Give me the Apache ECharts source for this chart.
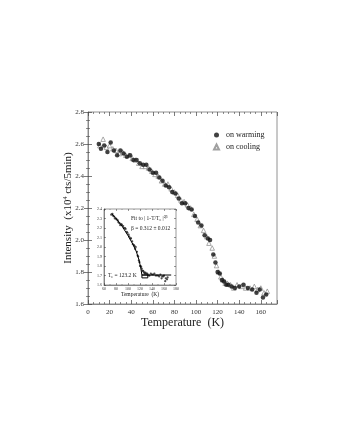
<!DOCTYPE html>
<html>
<head>
<meta charset="utf-8">
<script src="https://cdn.jsdelivr.net/npm/echarts@6/dist/echarts.min.js"></script>
<style>
html,body{margin:0;padding:0;background:#fff;}
#chart{width:346px;height:448px;}
</style>
</head>
<body>
<div id="chart"></div>
<script>
// on warming (filled circles)
var warmT = [10,12,15,18,21,24,27,30,33,36,39,42,45,48,51,54,57,60,63,66,69,72,75,78,81,84,87,90,93,96,99,102,105,108,111,113,116,118,120,122,124,126,128,130,133,136,140,144,148,152,156,159,162,165];
var warmI = [2.60,2.57,2.59,2.55,2.61,2.56,2.53,2.56,2.54,2.52,2.53,2.50,2.50,2.48,2.47,2.47,2.44,2.42,2.42,2.39,2.37,2.34,2.33,2.30,2.29,2.26,2.23,2.23,2.20,2.19,2.15,2.11,2.09,2.03,2.01,2.00,1.91,1.86,1.80,1.79,1.75,1.74,1.72,1.72,1.71,1.70,1.71,1.72,1.70,1.69,1.67,1.69,1.64,1.66];
// on cooling (open triangles)
var coolT = [11,14,17,20,23,26,29,32,35,38,41,44,47,50,53,56,59,62,65,68,71,74,77,80,83,86,89,92,95,98,101,104,107,110,112,115,117,119,121,123,125,127,129,132,135,138,142,146,150,154,157,160,163,166];
var coolI = [2.59,2.63,2.58,2.59,2.57,2.56,2.54,2.55,2.53,2.53,2.51,2.50,2.48,2.46,2.46,2.45,2.43,2.41,2.40,2.37,2.35,2.35,2.32,2.30,2.28,2.25,2.24,2.22,2.20,2.16,2.13,2.09,2.06,2.02,1.98,1.95,1.90,1.84,1.80,1.77,1.75,1.73,1.73,1.72,1.70,1.72,1.71,1.70,1.70,1.71,1.69,1.70,1.67,1.68];
// fit line in the inset
var fitT = [73,80,90,100,108,114,118,121,123.2,133,133,123.2,123.2,135,150,172];
var fitI = [2.35,2.30,2.22,2.12,2.03,1.95,1.87,1.79,1.705,1.705,1.675,1.675,1.705,1.705,1.705,1.705];

var xTicks = [0,20,40,60,80,100,120,140,160];

function pairs(t,v,from){
	var out=[];
	for(var i=0;i<t.length;i++){
		if(from==null || t[i]>=from){ out.push([t[i],v[i]]); }
	}
	return out;
}

var serif = "Liberation Serif";
var chart = echarts.init(document.getElementById('chart'));

var tickIn = {show:true, inside:true, length:4, lineStyle:{color:'#444',width:0.7}};
var minorIn = {show:true, splitNumber:4, length:2, lineStyle:{color:'#444',width:0.6}};
var smallTick = {show:true, inside:true, length:2, lineStyle:{color:'#333',width:0.5}};
var smallMinor = {show:true, splitNumber:2, length:1, lineStyle:{color:'#333',width:0.4}};

var option = {
	backgroundColor:'#fff',
	animation:false,
	grid:[
		{left:88, top:112, width:189, height:192, show:true, borderColor:'#777', borderWidth:0.8, backgroundColor:'#fff'},
		{left:104, top:209, width:72, height:76, show:true, borderColor:'#555', borderWidth:0.6, backgroundColor:'#fff', z:10}
	],
	legend:{
		orient:'vertical', left:208, top:126, itemGap:4, itemWidth:5, itemHeight:5,
		textStyle:{fontFamily:serif, fontSize:8, color:'#222', padding:[0,0,0,2]},
		data:[{name:'on warming', icon:'circle'},{name:'on cooling', icon:'triangle'}]
	},
	xAxis:[
		{gridIndex:0, type:'value', min:0, max:175, interval:20,
		 axisLine:{lineStyle:{color:'#777',width:0.8}}, axisTick:tickIn, minorTick:minorIn,
		 splitLine:{show:false},
		 axisLabel:{fontFamily:serif, fontSize:7, color:'#333', margin:5,
			formatter:function(v){return xTicks.indexOf(v)>=0 ? v : '';}},
		 name:'Temperature  (K)', nameLocation:'middle', nameGap:13, nameMoveOverlap:false,
		 nameTextStyle:{fontFamily:serif, fontSize:12, color:'#222'}},
		{gridIndex:0, type:'value', position:'top', min:0, max:175, interval:20,
		 axisLine:{show:false}, axisTick:tickIn, minorTick:minorIn, splitLine:{show:false}, axisLabel:{show:false}},
		{gridIndex:1, type:'value', min:60, max:180, interval:20, z:12,
		 axisLine:{lineStyle:{color:'#555',width:0.6}}, axisTick:smallTick, minorTick:smallMinor, splitLine:{show:false},
		 axisLabel:{fontFamily:serif, fontSize:4, color:'#333', margin:2},
		 name:'Temperature  (K)', nameLocation:'middle', nameGap:7, nameMoveOverlap:false,
		 nameTextStyle:{fontFamily:serif, fontSize:5.5, color:'#222'}},
		{gridIndex:1, type:'value', position:'top', min:60, max:180, interval:20, z:12,
		 axisLine:{show:false}, axisTick:smallTick, minorTick:smallMinor, splitLine:{show:false}, axisLabel:{show:false}}
	],
	yAxis:[
		{gridIndex:0, type:'value', min:1.6, max:2.8, interval:0.2,
		 axisLine:{lineStyle:{color:'#777',width:0.8}}, axisTick:tickIn, minorTick:minorIn, splitLine:{show:false},
		 axisLabel:{fontFamily:serif, fontSize:7, color:'#333', margin:4,
			formatter:function(v){return v.toFixed(1);}},
		 name:'Intensity  (x10{sup|4} cts/5min)', nameLocation:'middle', nameGap:14, nameMoveOverlap:false,
		 nameTextStyle:{fontFamily:serif, fontSize:11, color:'#222',
			rich:{sup:{fontFamily:serif, fontSize:6, verticalAlign:'bottom', padding:[0,0,6,0]}}}},
		{gridIndex:0, type:'value', position:'right', min:1.6, max:2.8, interval:0.2,
		 axisLine:{show:false}, axisTick:tickIn, minorTick:minorIn, splitLine:{show:false}, axisLabel:{show:false}},
		{gridIndex:1, type:'value', min:1.6, max:2.4, interval:0.1, z:12,
		 axisLine:{lineStyle:{color:'#555',width:0.6}}, axisTick:smallTick, minorTick:{show:false}, splitLine:{show:false},
		 axisLabel:{fontFamily:serif, fontSize:4, color:'#333', margin:2,
			formatter:function(v){return v.toFixed(1);}}},
		{gridIndex:1, type:'value', position:'right', min:1.6, max:2.4, interval:0.1, z:12,
		 axisLine:{show:false}, axisTick:smallTick, minorTick:{show:false}, splitLine:{show:false}, axisLabel:{show:false}}
	],
	series:[
		{name:'on cooling', type:'scatter', xAxisIndex:0, yAxisIndex:0, symbol:'triangle', symbolSize:4.5,
		 itemStyle:{color:'#fff', borderColor:'#888', borderWidth:0.9}, data:pairs(coolT,coolI)},
		{name:'on warming', type:'scatter', xAxisIndex:0, yAxisIndex:0, symbol:'circle', symbolSize:4.5,
		 itemStyle:{color:'#111'}, data:pairs(warmT,warmI)},
		{type:'scatter', xAxisIndex:2, yAxisIndex:2, symbol:'circle', symbolSize:2.2, z:13,
		 itemStyle:{color:'#222'}, data:pairs(coolT,coolI,72).concat(pairs(warmT,warmI,72))},
		{type:'line', xAxisIndex:2, yAxisIndex:2, showSymbol:false, z:14,
		 lineStyle:{color:'#000', width:1}, data:pairs(fitT,fitI)}
	],
	graphic:[
		{type:'text', left:131, top:215, z:20,
		 style:{text:'Fit to | 1-T/T{sub|c} |{sup|2β}', fontFamily:serif, fontSize:5.5, fill:'#222',
			rich:{sub:{fontSize:3.5, verticalAlign:'top', padding:[3,0,0,0]}, sup:{fontSize:3.5, verticalAlign:'bottom', padding:[0,0,3,0]}}}},
		{type:'text', left:131, top:226, z:20,
		 style:{text:'β = 0.312 ± 0.012', fontFamily:serif, fontSize:5.5, fill:'#222'}},
		{type:'text', left:108, top:273, z:20,
		 style:{text:'T{sub|c} = 123.2 K', fontFamily:serif, fontSize:5.5, fill:'#222',
			rich:{sub:{fontSize:3.5, verticalAlign:'top', padding:[3,0,0,0]}}}}
	]
};
chart.setOption(option);
</script>
</body>
</html>
